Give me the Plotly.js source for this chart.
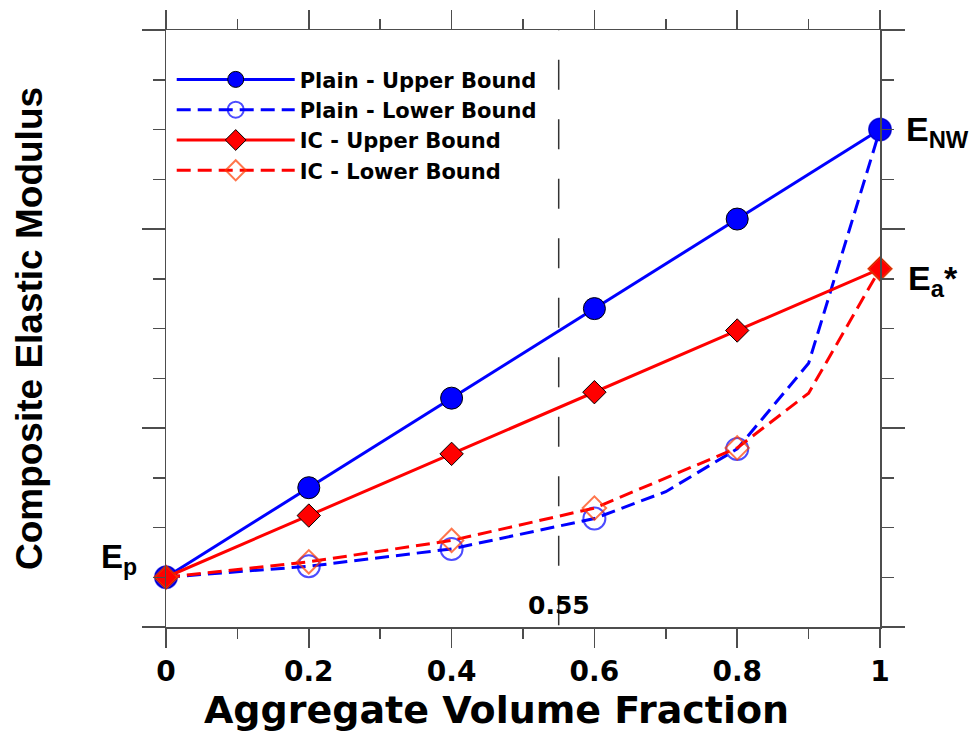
<!DOCTYPE html>
<html>
<head>
<meta charset="utf-8">
<script src="https://cdn.plot.ly/plotly-3.0.1.min.js"></script>
<style>
  html, body { margin: 0; padding: 0; background: #ffffff; }
  #chart { width: 974px; height: 732px; }
</style>
</head>
<body>
<div id="chart"></div>
<script>
// Aggregate volume fractions where the bounds are marked
const volumeFraction = [0, 0.2, 0.4, 0.6, 0.8, 1];

// Upper (parallel) bounds of the composite modulus
const plainUpper = [1, 2.8, 4.6, 6.4, 8.2, 10];
const icUpper = [1, 2.24, 3.48, 4.72, 5.96, 7.2];

// Lower (series) bounds, including the extra curve vertices
const plainLowerX = [0, 0.2, 0.4, 0.6, 0.7, 0.8, 0.9, 1];
const plainLower = [1, 1.22, 1.57, 2.18, 2.72, 3.58, 5.3, 10];
const icLowerX = [0, 0.2, 0.4, 0.6, 0.8, 0.9, 1];
const icLower = [1, 1.31, 1.74, 2.39, 3.6, 4.7, 7.2];

const seriesNames = ['Plain - Upper Bound', 'Plain - Lower Bound', 'IC - Upper Bound', 'IC - Lower Bound'];

// Axis ticks
const xTickVals = [0, 0.2, 0.4, 0.6, 0.8, 1];
const xTickText = ['0', '0.2', '0.4', '0.6', '0.8', '1'];
const xMinorVals = [0.1, 0.3, 0.5, 0.7, 0.9];

// Critical aggregate fraction marked by the vertical guide
const criticalFraction = 0.55;

const BLUE = '#0000ff';
const RED = '#ff0000';
const ORANGE_RED = '#ff3c00';
const AXIS = '#4d4d4d';
const Y_MAX = 12;

// markers only at the marked fractions; intermediate vertices carry none
const markSizes = (xs, s) => xs.map(v => volumeFraction.includes(v) ? s : 0);

const traces = [
  {
    name: seriesNames[0], x: volumeFraction, y: plainUpper,
    mode: 'lines+markers', cliponaxis: false,
    line: { color: BLUE, width: 3 },
    marker: { symbol: 'circle', size: 22, color: BLUE, line: { color: '#000', width: 1 } }
  },
  {
    name: seriesNames[1], x: plainLowerX, y: plainLower,
    mode: 'lines+markers', cliponaxis: false,
    line: { color: BLUE, width: 3, dash: '14px,7px' },
    marker: { symbol: 'circle-open', size: markSizes(plainLowerX, 22), color: BLUE, line: { color: BLUE, width: 2 } }
  },
  {
    name: seriesNames[2], x: volumeFraction, y: icUpper,
    mode: 'lines+markers', cliponaxis: false,
    line: { color: RED, width: 3 },
    marker: { symbol: 'diamond', size: 18, color: RED, line: { color: '#000', width: 1 } }
  },
  {
    name: seriesNames[3], x: icLowerX, y: icLower,
    mode: 'lines+markers', cliponaxis: false,
    line: { color: RED, width: 3, dash: '14px,7px' },
    marker: { symbol: 'diamond-open', size: markSizes(icLowerX, 18), color: ORANGE_RED, line: { color: ORANGE_RED, width: 2 } }
  }
];

const boldArial = { family: 'Liberation Sans, Arial, sans-serif', weight: 'bold', color: '#000' };
const boldWide = { family: 'DejaVu Sans, Verdana, sans-serif', weight: 'bold', color: '#000' };

const last = a => a[a.length - 1];

const layout = {
  width: 974,
  height: 732,
  margin: { l: 166, r: 94, t: 30, b: 105, pad: 0 },
  paper_bgcolor: '#ffffff',
  plot_bgcolor: '#ffffff',
  showlegend: true,
  legend: {
    x: 0.008, y: 0.951, xanchor: 'left', yanchor: 'top',
    bgcolor: 'rgba(0,0,0,0)', borderwidth: 0,
    itemwidth: 118, tracegroupgap: 0,
    font: Object.assign({ size: 21 }, boldWide)
  },
  xaxis: {
    range: [0, 1], autorange: false, automargin: false,
    tickmode: 'array', tickvals: xTickVals, ticktext: xTickText,
    ticks: 'outside', ticklen: 19, tickwidth: 1.5, tickcolor: AXIS,
    showline: true, linecolor: AXIS, linewidth: 1.5, mirror: 'ticks',
    showgrid: false, zeroline: false,
    minor: { tickmode: 'array', tickvals: xMinorVals, ticks: 'outside', ticklen: 10, tickwidth: 1.5, tickcolor: AXIS, showgrid: false },
    tickfont: Object.assign({ size: 28 }, boldWide),
    title: { text: 'Aggregate Volume Fraction&nbsp;&nbsp;&nbsp;&nbsp;', standoff: 5, font: Object.assign({ size: 38 }, boldWide) }
  },
  yaxis: {
    range: [0, Y_MAX], autorange: false, automargin: false,
    tickmode: 'linear', tick0: 0, dtick: 4,
    ticks: 'outside', ticklen: 23, tickwidth: 1.5, tickcolor: AXIS,
    showticklabels: false,
    showline: true, linecolor: AXIS, linewidth: 1.5, mirror: 'ticks',
    showgrid: false, zeroline: false,
    minor: { tick0: 0, dtick: 1, ticks: 'outside', ticklen: 12, tickwidth: 1.5, tickcolor: AXIS, showgrid: false },
    title: { text: 'Composite Elastic Modulus', standoff: 87, font: Object.assign({ size: 37 }, boldArial) }
  },
  shapes: [
    {
      type: 'line', xref: 'x', yref: 'y', layer: 'below',
      x0: criticalFraction, x1: criticalFraction, y0: Y_MAX + 0.6, y1: 0,
      line: { color: '#333333', width: 1.5, dash: '30px,29.5px' }
    }
  ],
  annotations: [
    {
      xref: 'x', yref: 'y', x: criticalFraction, y: 0,
      text: String(criticalFraction), showarrow: false,
      xanchor: 'center', yanchor: 'middle', yshift: 22,
      font: Object.assign({ size: 25 }, boldWide)
    },
    {
      xref: 'x', yref: 'y', x: volumeFraction[0], y: plainUpper[0],
      text: 'E<sub>p</sub>', showarrow: false,
      xanchor: 'right', yanchor: 'middle', xshift: -27, yshift: 18,
      font: Object.assign({ size: 33 }, boldArial)
    },
    {
      xref: 'x', yref: 'y', x: last(volumeFraction), y: last(plainUpper),
      text: 'E<sub>NW</sub>', showarrow: false,
      xanchor: 'left', yanchor: 'middle', xshift: 24, yshift: -2,
      font: Object.assign({ size: 34 }, boldArial)
    },
    {
      xref: 'x', yref: 'y', x: last(volumeFraction), y: last(icUpper),
      text: 'E<sub>a</sub>*', showarrow: false,
      xanchor: 'left', yanchor: 'middle', xshift: 26, yshift: -12,
      font: Object.assign({ size: 34 }, boldArial)
    }
  ]
};

Plotly.newPlot('chart', traces, layout, { staticPlot: true, displayModeBar: false });
</script>
</body>
</html>
